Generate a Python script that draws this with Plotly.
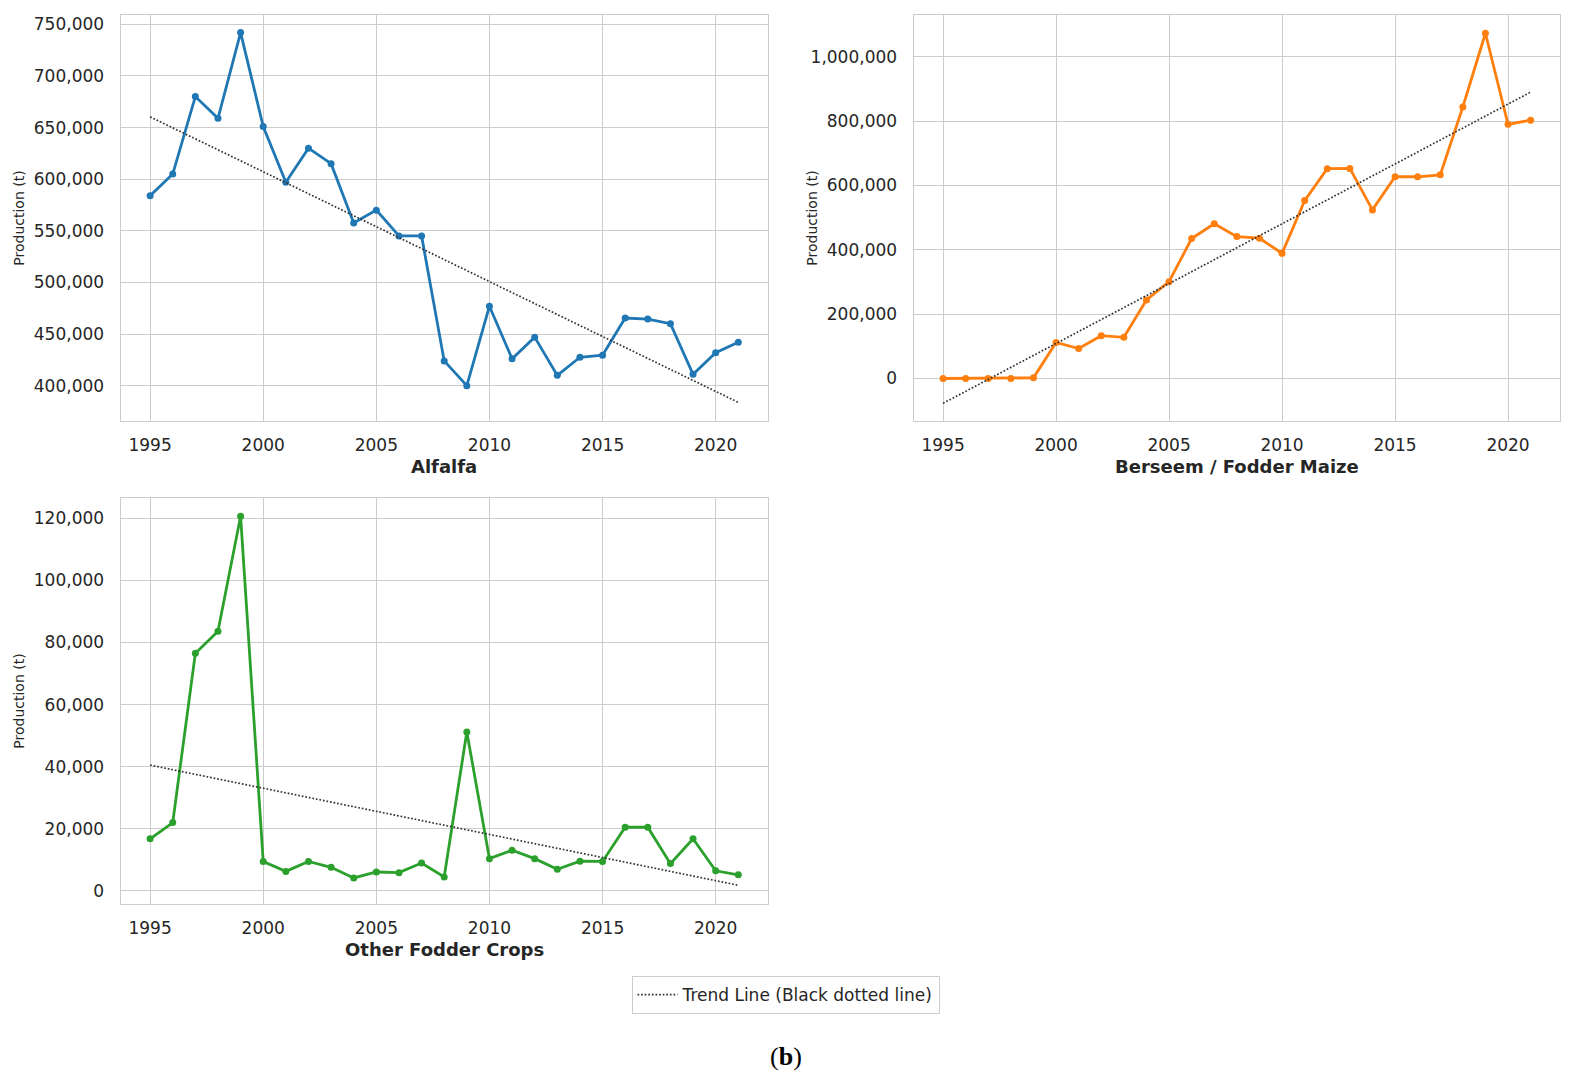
import numpy as np
import plotly.graph_objects as go

years = list(range(1995, 2022))

alfalfa = [584000, 605000, 680000, 659000, 742000, 651000, 597000, 630000, 615000,
           557500, 570000, 545000, 545000, 424000, 400000, 477000, 426000, 447000,
           410000, 427500, 429500, 465500, 464500, 460000, 411000, 432000, 442000]

berseem = [0, 0, 0, 0, 2000, 112000, 93000, 133000, 128000, 244000, 301000, 435000,
           481000, 441000, 436000, 389000, 553000, 652000, 653000, 524000, 627000,
           627000, 633000, 844000, 1073000, 790000, 803000]

other = [16800, 22000, 76500, 83600, 120600, 9500, 6300, 9500, 7600, 4200, 6100, 5900,
         9000, 4500, 51200, 10400, 13100, 10400, 7000, 9600, 9500, 20500, 20500, 8800,
         16800, 6500, 5200]

panel_names = ["Alfalfa", "Berseem / Fodder Maize", "Other Fodder Crops"]
panel_colors = ["#1f77b4", "#ff7f0e", "#2ca02c"]

# the page puts the plot 8px in from the top-left corner, so work in page pixels
OFF = 8
W, H = 1570 - OFF, 1079 - OFF

def px(xp):
    return (xp - OFF) / W

def py(yp):
    return 1 - (yp - OFF) / H

# plot boxes in page pixels: (left, right, top, bottom)
boxes = [(120.7, 767.7, 14.7, 421.3),
         (913.7, 1560.0, 14.7, 421.3),
         (120.7, 767.7, 498.0, 904.0)]
yranges = [[365500, 759300], [-133000, 1130700], [-4200, 126500]]
ytick_steps = [50000, 200000, 20000]

TXT = "#262626"
GRID = "#cccccc"
FONT = "DejaVu Sans"

fig = go.Figure()
x = np.array(years)

for i, (vals, name, color) in enumerate(zip([alfalfa, berseem, other], panel_names, panel_colors)):
    n = "" if i == 0 else str(i + 1)
    fig.add_trace(go.Scatter(
        x=years, y=vals, mode="lines+markers", name=name,
        line=dict(color=color, width=2.8), marker=dict(color=color, size=7),
        xaxis="x" + n, yaxis="y" + n, showlegend=False,
    ))
    # linear trend fitted to the series
    slope, icpt = np.polyfit(x, np.array(vals, dtype=float), 1)
    fig.add_trace(go.Scatter(
        x=years, y=slope * x + icpt, mode="lines",
        name="Trend Line (Black dotted line)",
        line=dict(color="#333333", width=1.7, dash="1.7px,1.9px"),
        xaxis="x" + n, yaxis="y" + n, showlegend=(i == 0),
    ))

axis_common = dict(
    showgrid=True, gridcolor=GRID, gridwidth=1.3,
    showline=True, linecolor=GRID, linewidth=1.4, mirror=True,
    zeroline=False, ticks="outside", tickcolor="rgba(0,0,0,0)",
    tickfont=dict(family=FONT, size=17, color=TXT), automargin=False,
)

layout = dict()
annotations = []
for i, (l, r, t, b) in enumerate(boxes):
    n = "" if i == 0 else str(i + 1)
    layout["xaxis" + n] = dict(
        axis_common, domain=[px(l), px(r)], range=[1993.7, 2022.3],
        tick0=1995, dtick=5, ticklen=8, anchor="y" + n,
    )
    layout["yaxis" + n] = dict(
        axis_common, domain=[py(b), py(t)], range=yranges[i],
        tick0=0, dtick=ytick_steps[i], tickformat=",d", ticklen=12, anchor="x" + n,
    )
    annotations.append(dict(
        text="<b>" + panel_names[i] + "</b>", xref="paper", yref="paper",
        x=px((l + r) / 2), y=py(b + 45.5), xanchor="center", yanchor="middle",
        showarrow=False, font=dict(family=FONT, size=18, color=TXT),
    ))
    annotations.append(dict(
        text="Production (t)", xref="paper", yref="paper",
        x=px(l - 102), y=py((t + b) / 2), xanchor="center", yanchor="middle",
        textangle=-90, showarrow=False, font=dict(family=FONT, size=14, color=TXT),
    ))

annotations.append(dict(
    text="(<b>b</b>)", xref="paper", yref="paper", x=px(785.5), y=py(1056),
    xanchor="center", yanchor="middle", showarrow=False,
    font=dict(family="Liberation Serif", size=26, color="#000000"),
))

fig.update_layout(
    **layout,
    annotations=annotations,
    width=W, height=H,
    margin=dict(l=0, r=0, t=0, b=0),
    paper_bgcolor="white", plot_bgcolor="white",
    showlegend=True,
    legend=dict(
        x=px(785.5), y=py(976), xanchor="center", yanchor="top",
        bordercolor=GRID, borderwidth=1, bgcolor="white",
        itemwidth=40,
        font=dict(family=FONT, size=17, color=TXT),
    ),
)

fig.write_html("out.html")
